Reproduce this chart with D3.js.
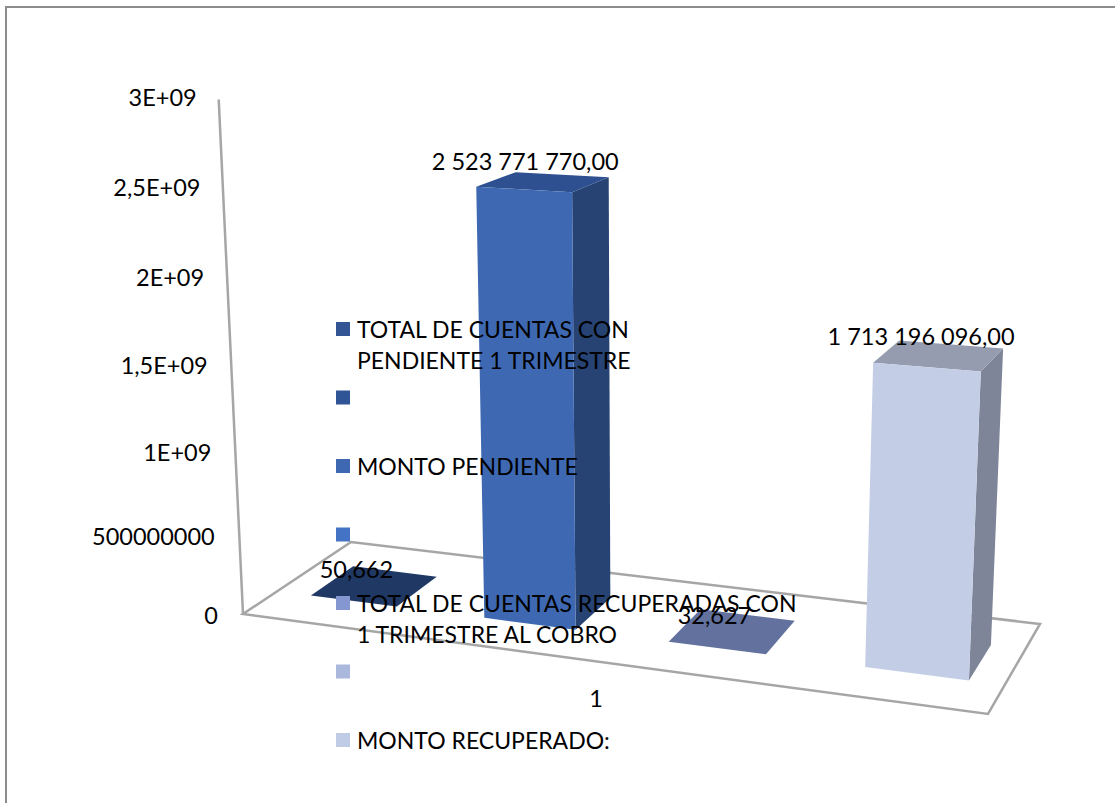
<!DOCTYPE html>
<html>
<head>
<meta charset="utf-8">
<script src="https://cdn.jsdelivr.net/npm/d3@7"></script>
<style>
body { margin: 0; background: #fff; }
svg { display: block; font-family: Lato, sans-serif; }
</style>
</head>
<body>
<div id="chart"></div>
<script>
// Values
const seriesKeys = ["cuentasPendiente", "montoPendiente", "cuentasRecuperadas", "montoRecuperado"];
const seriesValues = [50662, 2523771770, 32627, 1713196096];
const seriesLabels = ["50,662", "2 523 771 770,00", "32,627", "1 713 196 096,00"];
const tickValues = [0, 500000000, 1000000000, 1500000000, 2000000000, 2500000000, 3000000000];
const tickLabels = ["0", "500000000", "1E+09", "1,5E+09", "2E+09", "2,5E+09", "3E+09"];
const categoryLabel = "1";
const legendLines = [
    ["TOTAL DE CUENTAS CON", "PENDIENTE 1 TRIMESTRE"],
    [],
    ["MONTO PENDIENTE"],
    [],
    ["TOTAL DE CUENTAS RECUPERADAS CON", "1 TRIMESTRE AL COBRO"],
    [],
    ["MONTO RECUPERADO:"]
];

// Colours
const frontColors = ["#203864", "#3E69B2", "#62719D", "#C3CEE6"];
const topColors = ["#203864", "#2F5090", "#62719D", "#959CB0"];
const sideColors = ["#182A4B", "#264374", "#4A5576", "#7F8598"];
const legendColors = ["#335593", "#2F5597", "#3E69B2", "#4472C4", "#8497D0", "#A9B8DC", "#C0CCE6"];

const width = 1115;
const height = 803;

const svg = d3.select("#chart").append("svg").attr("width", width).attr("height", height);

// Floor of the 3D box as seen on screen: front left, front right, back right, back left
const floorQuad = [[243, 614], [988, 714], [1040, 624], [351, 542]];

const makeFloor = q => {
    const dx1 = q[1][0] - q[2][0], dx2 = q[3][0] - q[2][0], sx = q[0][0] - q[1][0] + q[2][0] - q[3][0];
    const dy1 = q[1][1] - q[2][1], dy2 = q[3][1] - q[2][1], sy = q[0][1] - q[1][1] + q[2][1] - q[3][1];
    const den = dx1 * dy2 - dx2 * dy1;
    const g = (sx * dy2 - dx2 * sy) / den;
    const h = (dx1 * sy - sx * dy1) / den;
    const a = q[1][0] - q[0][0] + g * q[1][0], b = q[3][0] - q[0][0] + h * q[3][0];
    const d = q[1][1] - q[0][1] + g * q[1][1], e = q[3][1] - q[0][1] + h * q[3][1];
    return (u, v) => {
        const w = g * u + h * v + 1;
        return [(a * u + b * v + q[0][0]) / w, (d * u + e * v + q[0][1]) / w];
    };
};
const floor = makeFloor(floorQuad);

const xScale = d3.scaleBand().domain(seriesKeys).range([0.004, 1.004]).paddingInner(0.497).paddingOuter(0.185);
const yScale = d3.scalePow().exponent(1.05).domain([0, 3000000000]).range([0, 1]);
const depthFront = 0.3;
const depthBack = 0.7;

// u across, v into the page, value goes up, verticals lean away from x = 643
const project = (u, v, value) => {
    const [x, y] = floor(u, v);
    const dy = yScale(value) * (517 + (y - 618) * 0.63);
    return [x + (x - 643) * 0.000118 * dy, y - dy];
};

const poly = pts => pts.map(p => p.join(",")).join(" ");

// Frame
svg.append("path").attr("d", `M6,${height} V7 H${width}`).attr("fill", "none").attr("stroke", "#8C8C8C").attr("stroke-width", 2);

// Wall line and floor
const wallStyle = sel => sel.attr("fill", "none").attr("stroke", "#A6A6A6").attr("stroke-width", 2.5);
svg.append("polyline").attr("points", poly([project(0, 0, 3000000000), project(0, 0, 0)])).call(wallStyle);
svg.append("polygon").attr("points", poly(floorQuad)).call(wallStyle);

// Bars
const bars = svg.selectAll("g.bar").data(seriesKeys).join("g").attr("class", "bar");

const corners = (d, i, value) => {
    const u0 = xScale(d), u1 = xScale(d) + xScale.bandwidth();
    return {
        fl: project(u0, depthFront, value),
        fr: project(u1, depthFront, value),
        br: project(u1, depthBack, value),
        bl: project(u0, depthBack, value)
    };
};

bars.append("polygon")
    .attr("fill", (d, i) => sideColors[i])
    .attr("points", (d, i) => {
        const low = corners(d, i, 0), up = corners(d, i, seriesValues[i]);
        return poly([low.fr, low.br, up.br, up.fr]);
    });
bars.append("polygon")
    .attr("fill", (d, i) => topColors[i])
    .attr("points", (d, i) => {
        const up = corners(d, i, seriesValues[i]);
        return poly([up.fl, up.fr, up.br, up.bl]);
    });
bars.append("polygon")
    .attr("fill", (d, i) => frontColors[i])
    .attr("points", (d, i) => {
        const low = corners(d, i, 0), up = corners(d, i, seriesValues[i]);
        return poly([low.fl, low.fr, up.fr, up.fl]);
    });

// Tick labels follow the leaning wall
svg.selectAll("text.tick").data(tickValues).join("text")
    .attr("class", "tick")
    .text((d, i) => tickLabels[i])
    .attr("x", d => project(0, 0, d)[0] - 25 + 3 * yScale(d))
    .attr("y", d => project(0, 0, d)[1] + 2 - 4 * yScale(d))
    .attr("dy", "0.35em")
    .attr("text-anchor", "end")
    .style("font-size", "23.5px");

// Category label
svg.append("text")
    .text(categoryLabel)
    .attr("x", project(0.5, 0, 0)[0] + 4)
    .attr("y", project(0.5, 0, 0)[1] + 38)
    .attr("dy", "0.35em")
    .attr("text-anchor", "middle")
    .style("font-size", "23.5px");

// Legend
const legendY = d3.scaleLinear().domain([0, legendLines.length - 1]).range([329, 740]);
const legend = svg.selectAll("g.legend").data(legendLines).join("g")
    .attr("class", "legend")
    .attr("transform", (d, i) => `translate(336, ${legendY(i)})`);

legend.append("rect")
    .attr("y", -7)
    .attr("width", 14)
    .attr("height", 14)
    .attr("fill", (d, i) => legendColors[i]);

legend.selectAll("text").data(d => d).join("text")
    .text(d => d)
    .attr("x", 21)
    .attr("y", (d, i) => i * 31 + 1)
    .attr("dy", "0.35em")
    .style("font-size", "23px");

// Data labels on top of everything
svg.selectAll("text.value").data(seriesKeys).join("text")
    .attr("class", "value")
    .text((d, i) => seriesLabels[i])
    .attr("x", (d, i) => {
        const up = corners(d, i, seriesValues[i]);
        return d3.mean([up.fl, up.fr, up.br, up.bl], p => p[0]) - 18;
    })
    .attr("y", (d, i) => {
        const up = corners(d, i, seriesValues[i]);
        return d3.mean([up.fl, up.fr, up.br, up.bl], p => p[1]) - 16 - 5 * yScale(seriesValues[i]);
    })
    .attr("dy", "0.35em")
    .attr("text-anchor", "middle")
    .style("font-size", "23.5px");
</script>
</body>
</html>
